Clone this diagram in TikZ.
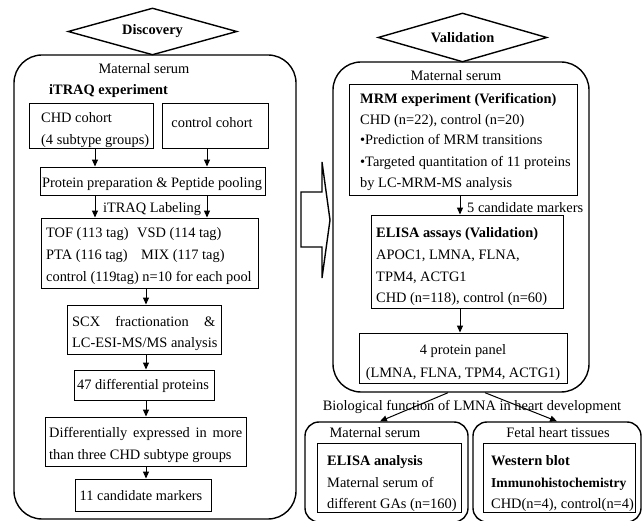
\documentclass[tikz,border=0pt]{standalone}
\usepackage{fontspec}
\setmainfont{Liberation Serif}
\usetikzlibrary{shapes.geometric,arrows.meta,fit}
\begin{document}
\begin{tikzpicture}[x=1pt,y=-1pt,
  every node/.style={font=\fontsize{14.4}{22}\selectfont, inner sep=0pt},
  box/.style={draw, line width=0.9pt, rectangle, inner sep=0pt},
  cont/.style={draw, line width=1.4pt, rounded corners=28pt, rectangle, inner sep=0pt},
  sub/.style={draw, line width=1.4pt, rounded corners=14pt, rectangle, inner sep=0pt},
  dia/.style={draw, line width=1.4pt, diamond, aspect=3.5, inner sep=0pt, font=\fontsize{14.4}{22}\selectfont\bfseries},
  arr/.style={-{Triangle[length=7pt,width=6pt]}, line width=1pt},
  tl/.style={anchor=base west},
  tb/.style={anchor=base west, font=\fontsize{14.4}{22}\selectfont\bfseries},
  tc/.style={anchor=base},
]
\useasboundingbox (0,0) rectangle (643,521);

% ---------------- Discovery ----------------
\node[dia, minimum width=169pt, minimum height=47pt] (disc) at (152.5,31.5) {Discovery};
\node[cont, fit={(14,55) (296,519)}] (lc) {};
\node[tc] at (144,74) {Maternal serum};
\node[tb] at (49,95) {iTRAQ experiment};
\node[box, fit={(29,103) (153,148)}] (chd) {};
\node[tl] at (41,123) {CHD cohort};
\node[tl] at (41,145) {(4 subtype groups)};
\node[box, fit={(162,103) (268,148)}] (ctl) {};
\node[tc] at (212,128) {control cohort};
\node[box, fit={(40,167) (265,195)}] (prot) {};
\node[tc] at (152,188) {Protein preparation \& Peptide pooling};
\node[tc] at (152,213) {iTRAQ Labeling};
\node[box, fit={(41,218) (258,288)}] (tof) {};
\node[tl] at (46,238) {TOF (113 tag)};
\node[tl] at (137,238) {VSD (114 tag)};
\node[tl] at (46,260) {PTA (116 tag)};
\node[tl] at (141,260) {MIX (117 tag)};
\node[tl] at (46,282) {control (119tag) n=10 for each pool};
\node[box, fit={(67,305) (221,354)}] (scx) {};
\node[tl] at (72,327) {\makebox[143pt][s]{SCX fractionation \&}};
\node[tl] at (72,348) {LC-ESI-MS/MS analysis};
\node[box, fit={(74,370) (214,400)}] (d47) {};
\node[tc] at (143,390) {47 differential proteins};
\node[box, fit={(45,417) (246,466)}] (diff) {};
\node[tl] at (49,438) {\makebox[193pt][s]{Differentially expressed in more}};
\node[tl] at (49,460) {than three CHD subtype groups};
\node[box, fit={(75,479) (211,511)}] (c11) {};
\node[tc] at (141,500) {11 candidate markers};

\coordinate (xa) at (95,0);
\coordinate (xb) at (207,0);
\coordinate (xc) at (146,0);
\draw[arr] (chd.south -| xa) -- (prot.north -| xa);
\draw[arr] (ctl.south -| xb) -- (prot.north -| xb);
\draw[arr] (prot.south -| xa) -- (tof.north -| xa);
\draw[arr] (prot.south -| xb) -- (tof.north -| xb);
\draw[arr] (tof.south -| xc) -- (scx.north -| xc);
\draw[arr] (scx.south -| xc) -- (d47.north -| xc);
\draw[arr] (d47.south -| xc) -- (diff.north -| xc);
\draw[arr] (diff.south -| xc) -- (c11.north -| xc);

% ---------------- big arrow ----------------
\draw[line width=1.4pt, line join=miter] (301,192) -- (322,192) -- (322,162) -- (330,220) -- (322,278) -- (322,247) -- (301,247) -- cycle;

% ---------------- Validation ----------------
\node[dia, minimum width=169pt, minimum height=49pt] (val) at (462.5,37.5) {Validation};
\node[cont, fit={(333,62) (589,392)}] (rc) {};
\node[tc] at (456,81) {Maternal serum};
\node[box, fit={(349,84) (577,195)}] (mrm) {};
\node[tb] at (360,104) {MRM experiment (Verification)};
\node[tl] at (360,125) {CHD (n=22), control (n=20)};
\node[tl] at (360,145) {\textbullet Prediction of MRM transitions};
\node[tl] at (360,167) {\textbullet Targeted quantitation of 11 proteins};
\node[tl] at (360,188) {by LC-MRM-MS analysis};
\node[box, fit={(371,215) (563,308)}] (eli) {};
\node[tl] at (467,213) {5 candidate markers};
\node[tb] at (376,238) {ELISA assays (Validation)};
\node[tl] at (376,260) {APOC1, LMNA, FLNA,};
\node[tl] at (376,282) {TPM4, ACTG1};
\node[tl] at (376,303) {CHD (n=118), control (n=60)};
\node[box, fit={(359,333) (567,383)}] (pan) {};
\node[tc] at (463,355) {4 protein panel};
\node[tc] at (463,378) {(LMNA, FLNA, TPM4, ACTG1)};
\coordinate (xr) at (460,0);
\draw[arr] (mrm.south -| xr) -- (eli.north -| xr);
\draw[arr] (eli.south -| xr) -- (pan.north -| xr);

\node[tc] at (472,410) {Biological function of LMNA in heart development};

% ---------------- lower boxes ----------------
\node[sub, fit={(305,422) (468,522)}] (ll) {};
\node[sub, fit={(473,422) (641,522)}] (lr) {};
\node[tc] at (375,438) {Maternal serum};
\node[box, fit={(317,443) (461,512)}] (lli) {};
\node[tb] at (327,465) {ELISA analysis};
\node[tl] at (327,487) {Maternal serum of};
\node[tl] at (327,508) {different GAs (n=160)};
\node[tc] at (558,437) {Fetal heart tissues};
\node[box, fit={(483,443) (635,512)}] (lri) {};
\node[tb] at (491,465) {Western blot};
\node[tb, font=\fontsize{13.6}{22}\selectfont\bfseries] at (491,487) {Immunohistochemistry};
\node[tl] at (491,508) {CHD(n=4), control(n=4)};

\draw[arr] ([xshift=-13pt]rc.south) -- ([xshift=-6.5pt]ll.north);
\draw[arr] ([xshift=24pt]rc.south) -- (lr.north);
\end{tikzpicture}
\end{document}
